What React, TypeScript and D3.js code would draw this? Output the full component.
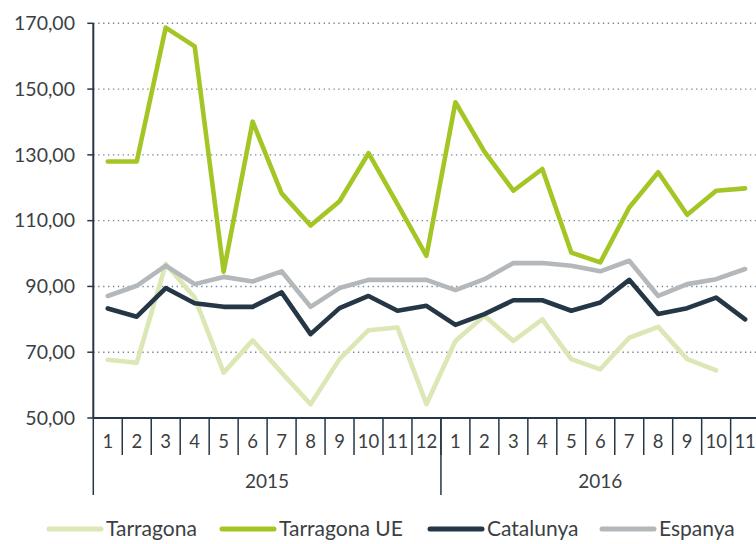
import React from 'react';
import * as d3 from 'd3';

const months = ['1','2','3','4','5','6','7','8','9','10','11','12','1','2','3','4','5','6','7','8','9','10','11'];
const years = [
  { label: '2015', from: 0, to: 12 },
  { label: '2016', from: 12, to: 23 },
];
const yTicks = [50, 70, 90, 110, 130, 150, 170];

const tarragona = [67.7, 66.8, 96.8, 86.6, 63.8, 73.6, 63.8, 54.2, 67.9, 76.7, 77.5, 54.2,
  73.4, 81.1, 73.4, 80.0, 67.9, 64.8, 74.4, 77.7, 67.9, 64.5, null];
const tarragonaUE = [128, 128, 168.7, 163, 94.5, 140.1, 118.3, 108.5, 115.9, 130.5, 115, 99.3,
  146, 131, 119.1, 125.7, 100.3, 97.3, 114, 124.7, 111.8, 119.1, 119.8];
const catalunya = [83.3, 80.8, 89.5, 84.9, 83.8, 83.8, 88.2, 75.5, 83.4, 87.1, 82.6, 84.1,
  78.3, 81.6, 85.8, 85.8, 82.6, 85.1, 92, 81.6, 83.4, 86.6, 80];
const espanya = [87.1, 90.2, 96.3, 90.7, 92.9, 91.5, 94.6, 83.8, 89.5, 92, 92, 92,
  88.9, 92.2, 97.1, 97.1, 96.3, 94.6, 97.8, 87.1, 90.7, 92.2, 95.3];

const series = [
  { name: 'Tarragona', values: tarragona, color: '#dbe7b4' },
  { name: 'Tarragona UE', values: tarragonaUE, color: '#a3c625' },
  { name: 'Catalunya', values: catalunya, color: '#253746' },
  { name: 'Espanya', values: espanya, color: '#b4b8bb' },
];

const legendPos = [47, 220, 428, 600];

const W = 756;
const H = 544;
const font = 'Lato, "Open Sans", sans-serif';
const axisColor = '#253746';
const textColor = '#3b3f44';

export default function App() {
  const x = d3.scaleBand<number>()
    .domain(d3.range(months.length))
    .range([93.3, 759.6])
    .padding(0);
  const y = d3.scaleLinear().domain([50, 170]).range([418, 23.3]);

  const line = d3.line<number | null>()
    .defined(d => d != null)
    .x((_, i) => (x(i) as number) + x.bandwidth() / 2)
    .y(d => y(d as number));

  const x0 = x(0) as number;
  const step = x.step();

  return (
    <div style={{ position: 'absolute', left: 0, top: 0 }}>
      <svg width={W} height={H} style={{ display: 'block', background: '#fff' }}>
        {/* grid */}
        {yTicks.filter(t => t > 50).map(t => (
          <line key={t} x1={x0} x2={W} y1={y(t)} y2={y(t)}
            stroke="#7d8893" strokeWidth={1.4} strokeDasharray="1.4 3.5" />
        ))}

        {/* series */}
        {series.map(s => (
          <path key={s.name} d={line(s.values) || ''} fill="none" stroke={s.color}
            strokeWidth={4.6} strokeLinejoin="round" strokeLinecap="round" />
        ))}

        {/* y axis */}
        <line x1={x0} x2={x0} y1={y(170)} y2={y(50)} stroke={axisColor} strokeWidth={2} />
        {yTicks.map(t => (
          <g key={t}>
            <line x1={x0 - 6} x2={x0} y1={y(t)} y2={y(t)} stroke={axisColor} strokeWidth={1.5} />
            <text x={75} y={y(t)} dy="0.35em" textAnchor="end" fontFamily={font}
              fontSize={19.5} fill={textColor}>
              {t.toFixed(2).replace('.', ',')}
            </text>
          </g>
        ))}

        {/* x axis */}
        <line x1={x0} x2={W} y1={y(50)} y2={y(50)} stroke={axisColor} strokeWidth={2} />
        {months.map((m, i) => (
          <g key={i}>
            {i > 0 && (
              <line x1={x0 + i * step} x2={x0 + i * step} y1={y(50)} y2={455}
                stroke={axisColor} strokeWidth={1.5} />
            )}
            <text x={(x(i) as number) + x.bandwidth() / 2} y={442} dy="0.35em" textAnchor="middle"
              fontFamily={font} fontSize={18.5} fill={textColor}>{m}</text>
          </g>
        ))}
        {years.map(yr => (
          <g key={yr.label}>
            <line x1={x0 + yr.from * step} x2={x0 + yr.from * step} y1={y(50)} y2={495}
              stroke={axisColor} strokeWidth={1.5} />
            <text x={x0 + (yr.from + yr.to) / 2 * step} y={481} dy="0.35em" textAnchor="middle"
              fontFamily={font} fontSize={19} fill={textColor}>{yr.label}</text>
          </g>
        ))}

        {/* legend */}
        {series.map((s, i) => (
          <g key={s.name}>
            <line x1={legendPos[i] + 2} x2={legendPos[i] + 54} y1={529} y2={529}
              stroke={s.color} strokeWidth={5} strokeLinecap="round" />
            <text x={legendPos[i] + 59} y={529} dy="0.35em" fontFamily={font} fontSize={21}
              fill={textColor}>{s.name}</text>
          </g>
        ))}
      </svg>
    </div>
  );
}
